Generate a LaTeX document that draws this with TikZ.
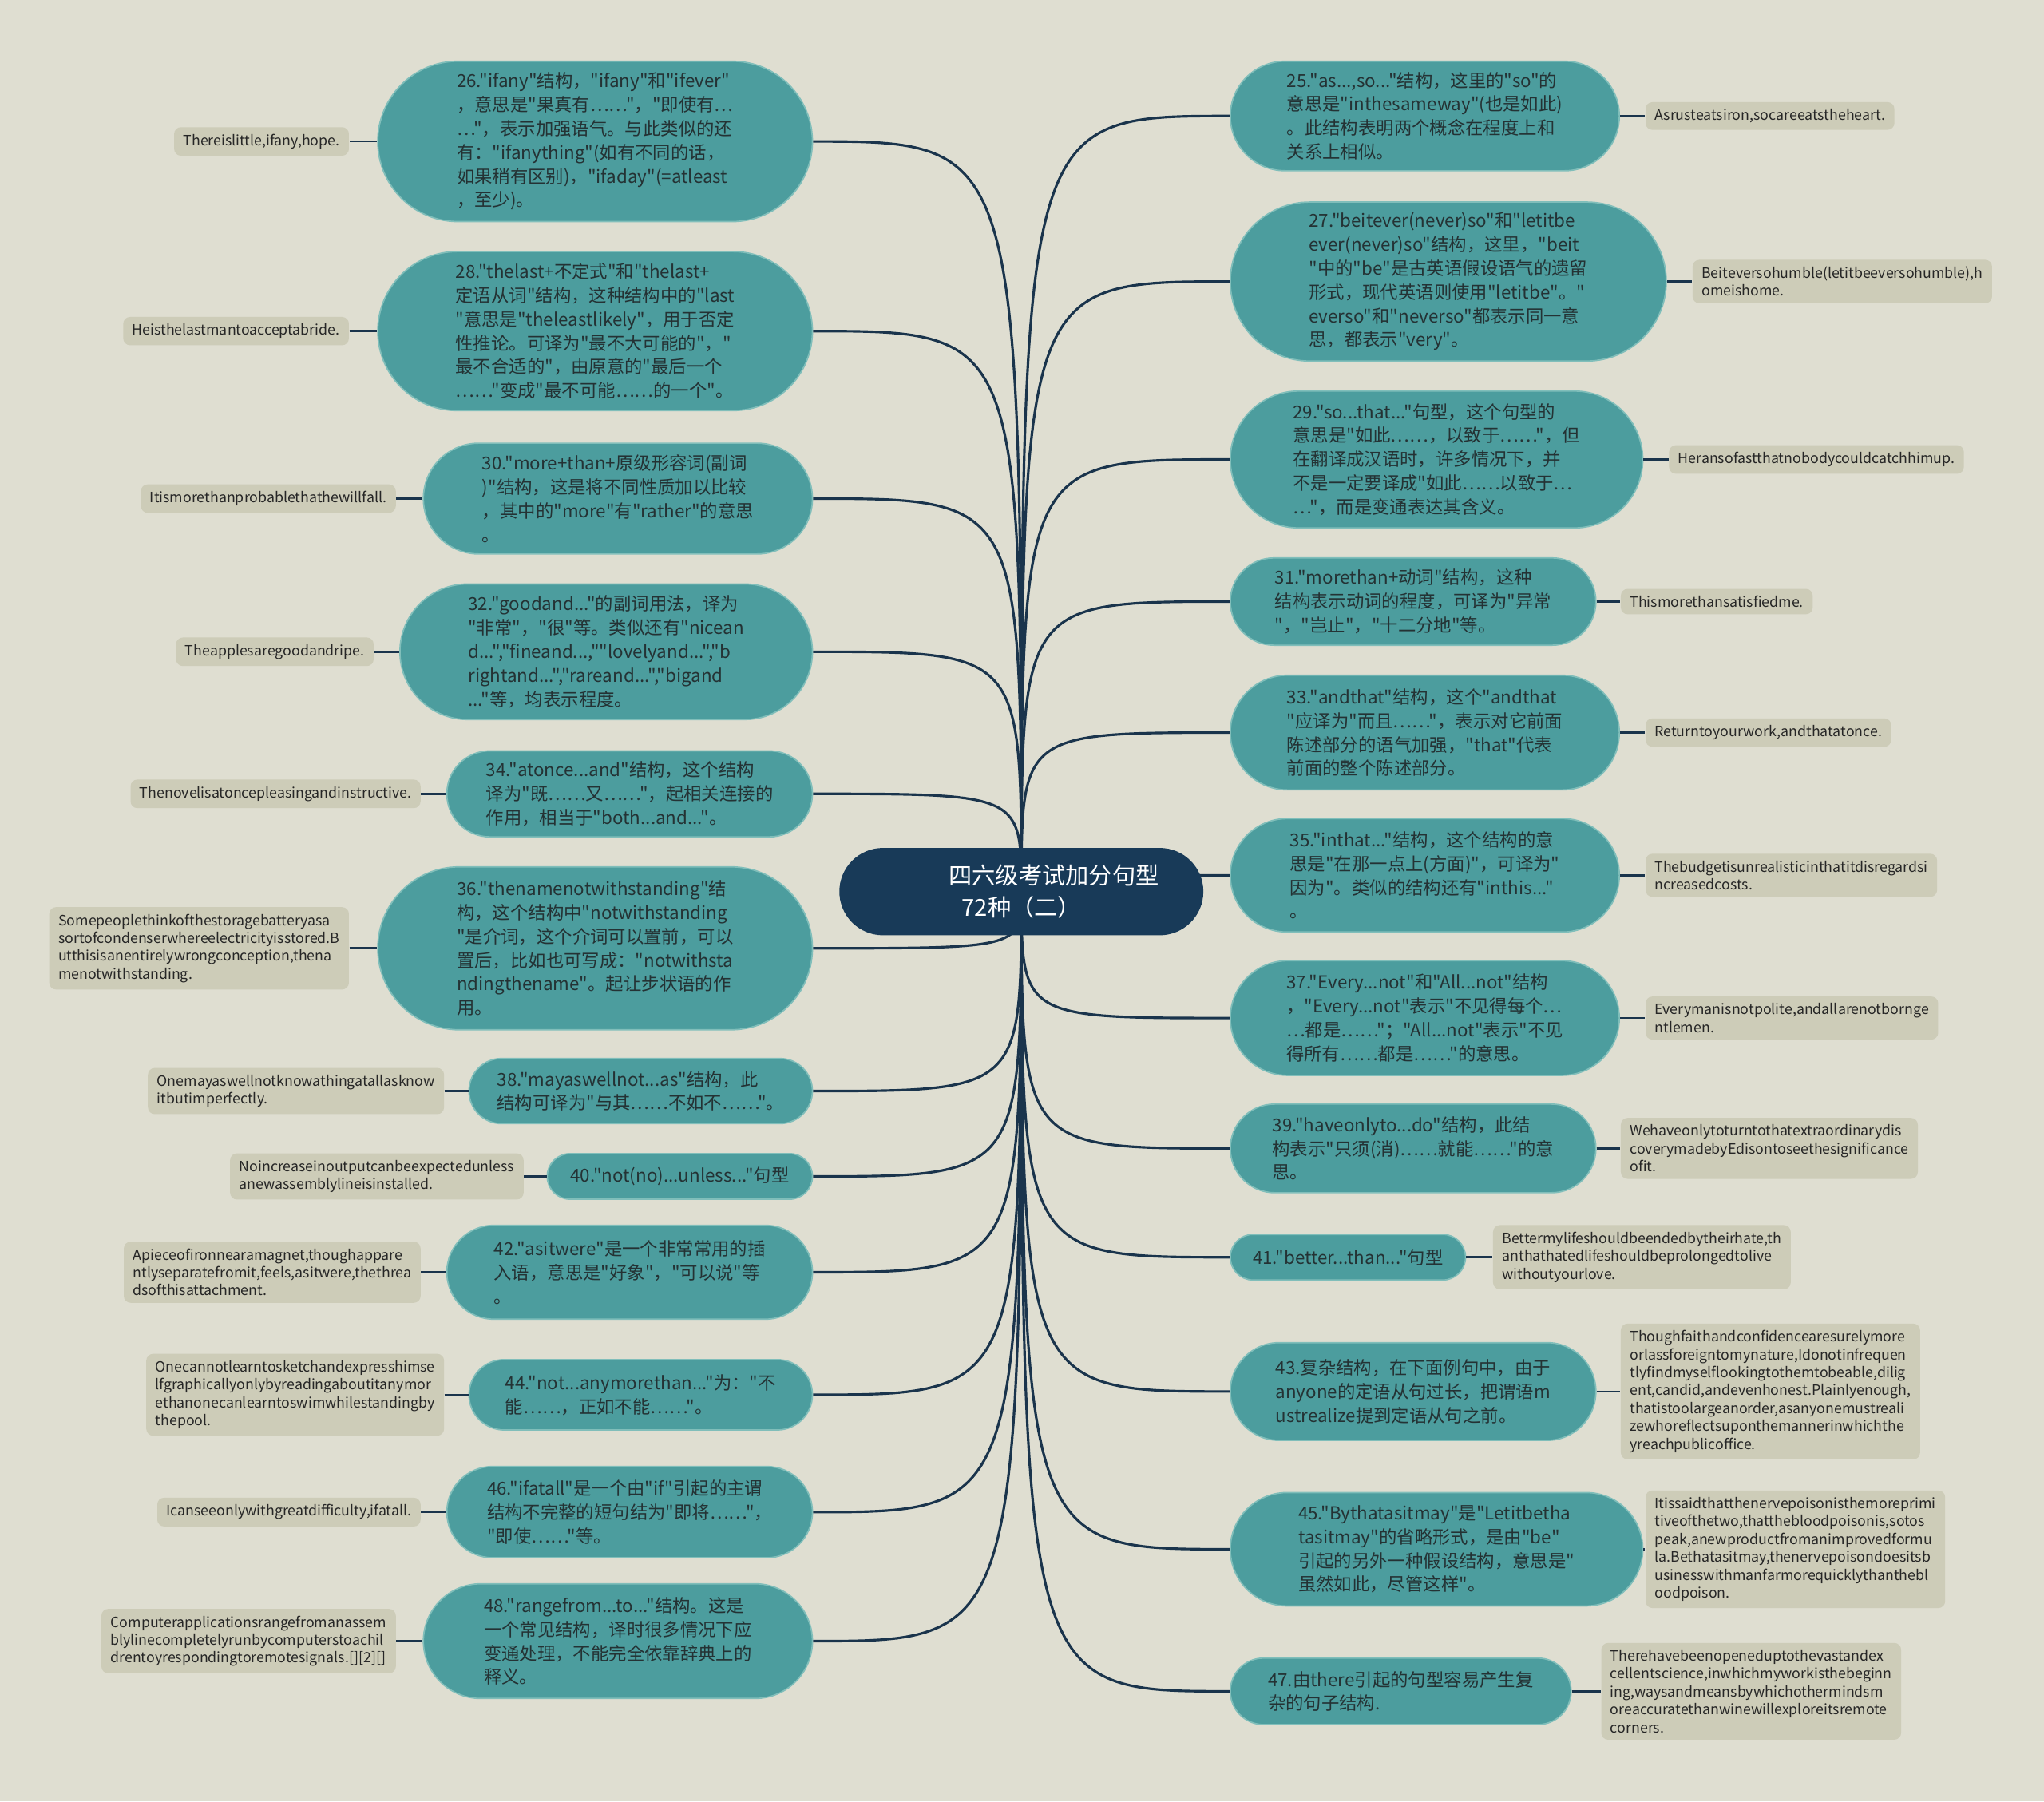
\documentclass[tikz,border=0pt]{standalone}
\usepackage{fontspec}
\newfontfamily\notocjk{Noto Sans CJK SC}
\usetikzlibrary{shapes.misc}
\definecolor{paper}{RGB}{223,222,209}
\definecolor{tealBub}{RGB}{76,157,158}
\definecolor{tealEdge}{RGB}{128,190,186}
\definecolor{inkBub}{RGB}{36,50,52}
\definecolor{sand}{RGB}{205,204,184}
\definecolor{navy}{RGB}{24,58,88}
\definecolor{linkcol}{RGB}{26,52,76}
\tikzset{mindmap72/.style={
  bub/.style={rounded rectangle, fill=tealBub, draw=tealEdge, line width=0.6pt, inner sep=1pt,
    text=inkBub, align=left, font=\notocjk\fontsize{7.8}{10.4}\selectfont},
  ex/.style={rounded corners=3pt, fill=sand, draw=none, inner xsep=4pt, inner ysep=3pt,
    text=black!85, align=left, font=\notocjk\fontsize{6.2}{7.8}\selectfont},
  branch/.style={draw=linkcol, line width=1.1pt},
  twig/.style={draw=linkcol, line width=0.9pt},
}}

\begin{document}
\begin{tikzpicture}[mindmap72, x=0.02cm, y=-0.02cm,
  root/.style={rounded rectangle, fill=navy, draw=none, text=white, align=left,
    font=\notocjk\fontsize{10.2}{13.7}\selectfont, minimum width=5.82cm, minimum height=1.34cm},
]
\useasboundingbox (0,0) rectangle (1568,1382);
\fill[paper] (0,0) rectangle (1568,1382);

% ---- left bubbles ----
\node[bub, minimum width=6.74cm, minimum height=2.46cm] (b26) at (456.5,108.5) {26."ifany"结构，"ifany"和"ifever"\\，意思是"果真有……"，"即使有…\\…"，表示加强语气。与此类似的还\\有："ifanything"(如有不同的话，\\如果稍有区别)，"ifaday"(=atleast\\，至少)。};
\node[bub, minimum width=6.74cm, minimum height=2.44cm] (b28) at (456.5,254) {28."thelast+不定式"和"thelast+\\定语从词"结构，这种结构中的"last\\"意思是"theleastlikely"，用于否定\\性推论。可译为"最不大可能的"，"\\最不合适的"，由原意的"最后一个\\……"变成"最不可能……的一个"。};
\node[bub, minimum width=6.04cm, minimum height=1.70cm] (b30) at (474,382.5) {30."more+than+原级形容词(副词\\)"结构，这是将不同性质加以比较\\，其中的"more"有"rather"的意思\\。};
\node[bub, minimum width=6.40cm, minimum height=2.08cm] (b32) at (465,500) {32."goodand..."的副词用法，译为\\"非常"，"很"等。类似还有"nicean\\d...","fineand...,""lovelyand...","b\\rightand...","rareand...","bigand\\..."等，均表示程度。};
\node[bub, minimum width=5.68cm, minimum height=1.32cm] (b34) at (483,609) {34."atonce...and"结构，这个结构\\译为"既……又……"，起相关连接的\\作用，相当于"both...and..."。};
\node[bub, minimum width=6.74cm, minimum height=2.50cm] (b36) at (456.5,727.5) {36."thenamenotwithstanding"结\\构，这个结构中"notwithstanding\\"是介词，这个介词可以置前，可以\\置后，比如也可写成："notwithsta\\ndingthename"。起让步状语的作\\用。};
\node[bub, minimum width=5.34cm, minimum height=1.00cm] (b38) at (491.5,837) {38."mayaswellnot...as"结构，此\\结构可译为"与其……不如不……"。};
\node[bub, minimum width=4.14cm, minimum height=0.70cm] (b40) at (521.5,902.5) {40."not(no)...unless..."句型};
\node[bub, minimum width=5.68cm, minimum height=1.44cm] (b42) at (483,976) {42."asitwere"是一个非常常用的插\\入语，意思是"好象"，"可以说"等\\。};
\node[bub, minimum width=5.34cm, minimum height=1.08cm] (b44) at (491.5,1070) {44."not...anymorethan..."为："不\\能……，正如不能……"。};
\node[bub, minimum width=5.68cm, minimum height=1.40cm] (b46) at (483,1160) {46."ifatall"是一个由"if"引起的主谓\\结构不完整的短句结为"即将……"，\\"即使……"等。};
\node[bub, minimum width=6.04cm, minimum height=1.76cm] (b48) at (474,1259) {48."rangefrom...to..."结构。这是\\一个常见结构，译时很多情况下应\\变通处理，不能完全依靠辞典上的\\释义。};

% ---- right bubbles ----
\node[bub, minimum width=6.04cm, minimum height=1.68cm] (b25) at (1093,89) {25."as...,so..."结构，这里的"so"的\\意思是"inthesameway"(也是如此)\\。此结构表明两个概念在程度上和\\关系上相似。};
\node[bub, minimum width=6.76cm, minimum height=2.44cm] (b27) at (1111,216) {27."beitever(never)so"和"letitbe\\ever(never)so"结构，这里，"beit\\"中的"be"是古英语假设语气的遗留\\形式，现代英语则使用"letitbe"。"\\everso"和"neverso"都表示同一意\\思，都表示"very"。};
\node[bub, minimum width=6.40cm, minimum height=2.10cm] (b29) at (1102,352.5) {29."so...that..."句型，这个句型的\\意思是"如此……，以致于……"，但\\在翻译成汉语时，许多情况下，并\\不是一定要译成"如此……以致于…\\…"，而是变通表达其含义。};
\node[bub, minimum width=5.68cm, minimum height=1.34cm] (b31) at (1084,461.5) {31."morethan+动词"结构，这种\\结构表示动词的程度，可译为"异常\\"，"岂止"，"十二分地"等。};
\node[bub, minimum width=6.04cm, minimum height=1.76cm] (b33) at (1093,562) {33."andthat"结构，这个"andthat\\"应译为"而且……"，表示对它前面\\陈述部分的语气加强，"that"代表\\前面的整个陈述部分。};
\node[bub, minimum width=6.04cm, minimum height=1.74cm] (b35) at (1093,671.5) {35."inthat..."结构，这个结构的意\\思是"在那一点上(方面)"，可译为"\\因为"。类似的结构还有"inthis..."\\。};
\node[bub, minimum width=6.04cm, minimum height=1.76cm] (b37) at (1093,781) {37."Every...not"和"All...not"结构\\，"Every...not"表示"不见得每个…\\…都是……"；"All...not"表示"不见\\得所有……都是……"的意思。};
\node[bub, minimum width=5.68cm, minimum height=1.36cm] (b39) at (1084,881) {39."haveonlyto...do"结构，此结\\构表示"只须(消)……就能……"的意\\思。};
\node[bub, minimum width=3.68cm, minimum height=0.70cm] (b41) at (1034,964.5) {41."better...than..."句型};
\node[bub, minimum width=5.68cm, minimum height=1.50cm] (b43) at (1084,1067.5) {43.复杂结构，在下面例句中，由于\\anyone的定语从句过长，把谓语m\\ustrealize提到定语从句之前。};
\node[bub, minimum width=6.40cm, minimum height=1.74cm] (b45) at (1102,1188.5) {45."Bythatasitmay"是"Letitbetha\\tasitmay"的省略形式，是由"be"\\引起的另外一种假设结构，意思是"\\虽然如此，尽管这样"。};
\node[bub, minimum width=5.30cm, minimum height=1.02cm] (b47) at (1074.5,1297.5) {47.由there引起的句型容易产生复\\杂的句子结构.};

% ---- examples, left ----
\node[ex, anchor=east] (e26) at (268,108.5) {Thereislittle,ifany,hope.};
\node[ex, anchor=east] (e28) at (268,254) {Heisthelastmantoacceptabride.};
\node[ex, anchor=east] (e30) at (304,382.5) {Itismorethanprobablethathewillfall.};
\node[ex, anchor=east] (e32) at (287,500) {Theapplesaregoodandripe.};
\node[ex, anchor=east] (e34) at (323,609) {Thenovelisatoncepleasingandinstructive.};
\node[ex, anchor=east] (e36) at (268,727.5) {Somepeoplethinkofthestoragebatteryasa\\sortofcondenserwhereelectricityisstored.B\\utthisisanentirelywrongconception,thena\\menotwithstanding.};
\node[ex, anchor=east] (e38) at (341,837) {Onemayaswellnotknowathingatallasknow\\itbutimperfectly.};
\node[ex, anchor=east] (e40) at (402,902.5) {Noincreaseinoutputcanbeexpectedunless\\anewassemblylineisinstalled.};
\node[ex, anchor=east] (e42) at (323,976) {Apieceofironnearamagnet,thoughappare\\ntlyseparatefromit,feels,asitwere,thethrea\\dsofthisattachment.};
\node[ex, anchor=east] (e44) at (341,1070) {Onecannotlearntosketchandexpresshimse\\lfgraphicallyonlybyreadingaboutitanymor\\ethanonecanlearntoswimwhilestandingby\\thepool.};
\node[ex, anchor=east] (e46) at (323,1160) {Icanseeonlywithgreatdifficulty,ifatall.};
\node[ex, anchor=east] (e48) at (304,1259) {Computerapplicationsrangefromanassem\\blylinecompletelyrunbycomputerstoachil\\drentoyrespondingtoremotesignals.[][2][]};

% ---- examples, right ----
\node[ex, anchor=west] (e25) at (1262,89) {Asrusteatsiron,socareeatstheheart.};
\node[ex, anchor=west] (e27) at (1298,216) {Beiteversohumble(letitbeeversohumble),h\\omeishome.};
\node[ex, anchor=west] (e29) at (1280,352.5) {Heransofastthatnobodycouldcatchhimup.};
\node[ex, anchor=west] (e31) at (1243,461.5) {Thismorethansatisfiedme.};
\node[ex, anchor=west] (e33) at (1262,562) {Returntoyourwork,andthatatonce.};
\node[ex, anchor=west] (e35) at (1262,671.5) {Thebudgetisunrealisticinthatitdisregardsi\\ncreasedcosts.};
\node[ex, anchor=west] (e37) at (1262,781) {Everymanisnotpolite,andallarenotborngе\\ntlemen.};
\node[ex, anchor=west] (e39) at (1243,881) {Wehaveonlytoturntothatextraordinarydis\\coverymadebyEdisontoseethesignificance\\ofit.};
\node[ex, anchor=west] (e41) at (1145,964.5) {Bettermylifeshouldbeendedbytheirhate,th\\anthathatedlifeshouldbeprolongedtolive\\withoutyourlove.};
\node[ex, anchor=west] (e43) at (1243,1067.5) {Thoughfaithandconfidencearesurelymore\\orlassforeigntomynature,Idonotinfrequen\\tlyfindmyselflookingtothemtobeable,dilig\\ent,candid,andevenhonest.Plainlyenough,\\thatistoolargeanorder,asanyonemustreali\\zewhoreflectsuponthemannerinwhichthe\\yreachpublicoffice.};
\node[ex, anchor=west] (e45) at (1262,1188.5) {Itissaidthatthenervepoisonisthemoreprimi\\tiveofthetwo,thatthebloodpoisonis,sotos\\peak,anewproductfromanimprovedformu\\la.Bethatasitmay,thenervepoisondoesitsb\\usinesswithmanfarmorequicklythanthebl\\oodpoison.};
\node[ex, anchor=west] (e47) at (1228,1297.5) {Therehavebeenopeneduptothevastandex\\cellentscience,inwhichmyworkisthebeginn\\ing,waysandmeansbywhichothermindsm\\oreaccuratethanwinewillexploreitsremote\\corners.};

% ---- links ----
\coordinate (hub) at (783.5,684);
\foreach \n in {26,28,...,48} {
  \draw[branch] (hub) .. controls (hub |- b\n.east) .. (b\n.east);
  \draw[twig] (e\n.east) -- (b\n.west);
}
\foreach \n in {25,27,...,47} {
  \draw[branch] (hub) .. controls (hub |- b\n.west) .. (b\n.west);
  \draw[twig] (b\n.east) -- (e\n.west);
}

% ---- centre ----
\node[root] (root) at (hub) {\hspace*{1cm}四六级考试加分句型\\\hspace*{1.2cm}72种（二）};

\end{tikzpicture}
\end{document}
